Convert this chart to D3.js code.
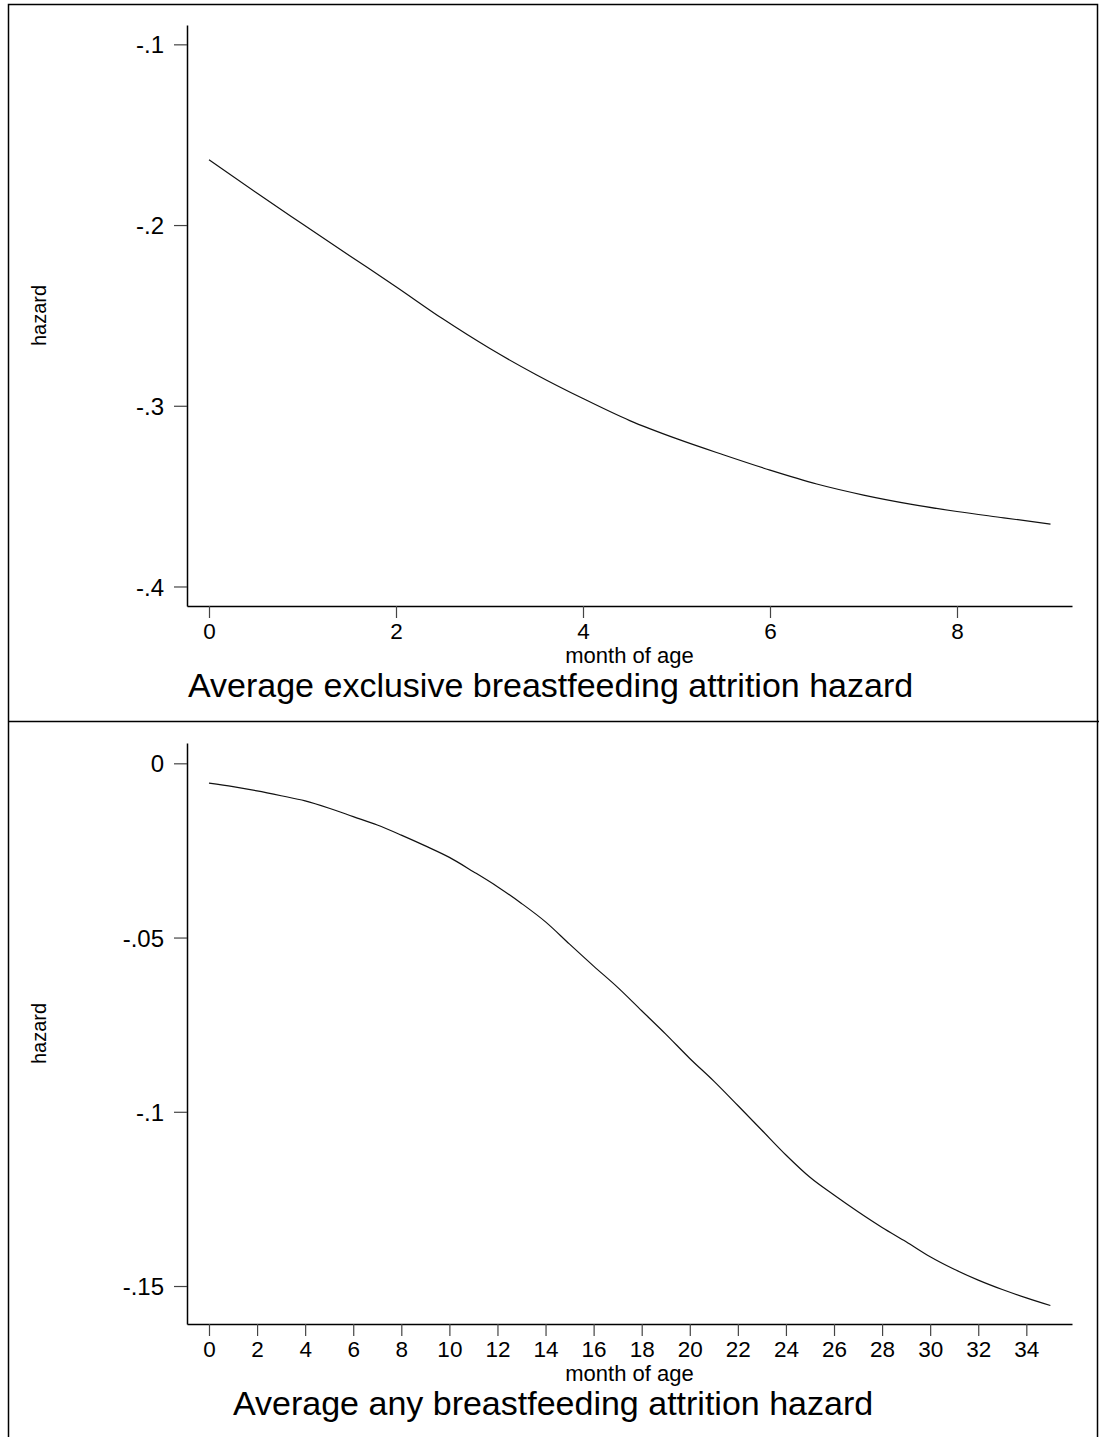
<!DOCTYPE html>
<html><head><meta charset="utf-8">
<script src="https://cdn.jsdelivr.net/npm/d3@7/dist/d3.min.js"></script>
<style>
html,body{margin:0;padding:0;background:#fff;}
svg{display:block;}
text{font-family:"Liberation Sans",Arial,Helvetica,sans-serif;fill:#000;}
</style></head><body>
<svg id="chart" width="1099" height="1437"></svg>
<script>
// ---- Panel 1: exclusive breastfeeding ----
const months1 = [0,0.5,1,1.5,2,2.5,3,3.5,4,4.5,5,5.5,6,6.5,7,7.5,8,8.5,9];
const hazard1 = [-0.1639,-0.1819,-0.1994,-0.2168,-0.2341,-0.2519,-0.2682,-0.2828,-0.2960,-0.3082,-0.3182,-0.3271,-0.3356,-0.3433,-0.3494,-0.3544,-0.3585,-0.3620,-0.3655];
const yTicks1 = [-0.1,-0.2,-0.3,-0.4];
const yTickLabels1 = ["-.1","-.2","-.3","-.4"];
const xTicks1 = [0,2,4,6,8];
const title1 = "Average exclusive breastfeeding attrition hazard";

// ---- Panel 2: any breastfeeding ----
const months2 = [0,1,2,3,4,5,6,7,8,9,10,11,12,13,14,15,16,17,18,19,20,21,22,23,24,25,26,27,28,29,30,31,32,33,34,35];
const hazard2 = [-0.0057,-0.0067,-0.0079,-0.0093,-0.0108,-0.0129,-0.0153,-0.0177,-0.0206,-0.0237,-0.0270,-0.0311,-0.0354,-0.0402,-0.0455,-0.0519,-0.0582,-0.0643,-0.0710,-0.0777,-0.0847,-0.0912,-0.0982,-0.1053,-0.1124,-0.1188,-0.1239,-0.1287,-0.1332,-0.1373,-0.1416,-0.1452,-0.1483,-0.1510,-0.1534,-0.1556];
const yTicks2 = [0,-0.05,-0.1,-0.15];
const yTickLabels2 = ["0","-.05","-.1","-.15"];
const xTicks2 = [0,2,4,6,8,10,12,14,16,18,20,22,24,26,28,30,32,34];
const title2 = "Average any breastfeeding attrition hazard";

const xLabel = "month of age";
const yLabel = "hazard";

const svg = d3.select("#chart");

// outer frames
svg.append("rect").attr("x",8.5).attr("y",4.5).attr("width",1089).attr("height",1440)
  .attr("fill","none").attr("stroke","#000").attr("stroke-width",1.5);
svg.append("line").attr("x1",8).attr("x2",1099).attr("y1",721.5).attr("y2",721.5)
  .attr("stroke","#000").attr("stroke-width",1.5);

function panel(cfg){
  const x = d3.scaleLinear().domain(cfg.xDomain).range([187,1072]);
  const y = d3.scaleLinear().domain(cfg.yDomain).range([cfg.bottom,cfg.top]);
  const g = svg.append("g");

  const yAxis = d3.axisLeft(y).tickValues(cfg.yTicks)
    .tickFormat((d,i)=>cfg.yTickLabels[i]).tickSize(13).tickSizeOuter(0).tickPadding(10);
  const ya = g.append("g").attr("transform","translate(187,0)").call(yAxis);
  ya.select(".domain").attr("stroke","#000").attr("stroke-width",1.5);
  ya.selectAll(".tick line").attr("stroke","#444").attr("stroke-width",1.2);
  ya.selectAll(".tick text").attr("font-size",24).attr("font-family",null).attr("dy","0.36em");

  const xAxis = d3.axisBottom(x).tickValues(cfg.xTicks).tickFormat(d3.format("d"))
    .tickSize(12).tickSizeOuter(0).tickPadding(5);
  const xa = g.append("g").attr("transform",`translate(0,${cfg.bottom})`).call(xAxis);
  xa.select(".domain").attr("stroke","#000").attr("stroke-width",1.5);
  xa.selectAll(".tick line").attr("stroke","#444").attr("stroke-width",1.2);
  xa.selectAll(".tick text").attr("font-size",22.5).attr("font-family",null);

  g.append("path").datum(cfg.months.map((m,i)=>[m,cfg.values[i]]))
    .attr("fill","none").attr("stroke","#111").attr("stroke-width",1.2)
    .attr("d", d3.line().x(d=>x(d[0])).y(d=>y(d[1])).curve(d3.curveMonotoneX));

  g.append("text").attr("x",629.5).attr("y",cfg.bottom+57).attr("text-anchor","middle")
    .attr("font-size",22).text(xLabel);
  g.append("text").attr("transform",`translate(46,${(cfg.top+cfg.bottom)/2}) rotate(-90)`)
    .attr("text-anchor","middle").attr("font-size",20).text(yLabel);
  g.append("text").attr("x",cfg.titleX).attr("y",cfg.bottom+91).attr("text-anchor","start")
    .attr("font-size",34).text(cfg.title);
}

panel({xDomain:[-0.2353,9.230], yDomain:[-0.4108,-0.0893], top:25, bottom:606,
  months:months1, values:hazard1, yTicks:yTicks1, yTickLabels:yTickLabels1, xTicks:xTicks1,
  title:title1, titleX:188});
panel({xDomain:[-0.915,35.90], yDomain:[-0.1609,0.00583], top:743, bottom:1324,
  months:months2, values:hazard2, yTicks:yTicks2, yTickLabels:yTickLabels2, xTicks:xTicks2,
  title:title2, titleX:233});
</script>
</body></html>
